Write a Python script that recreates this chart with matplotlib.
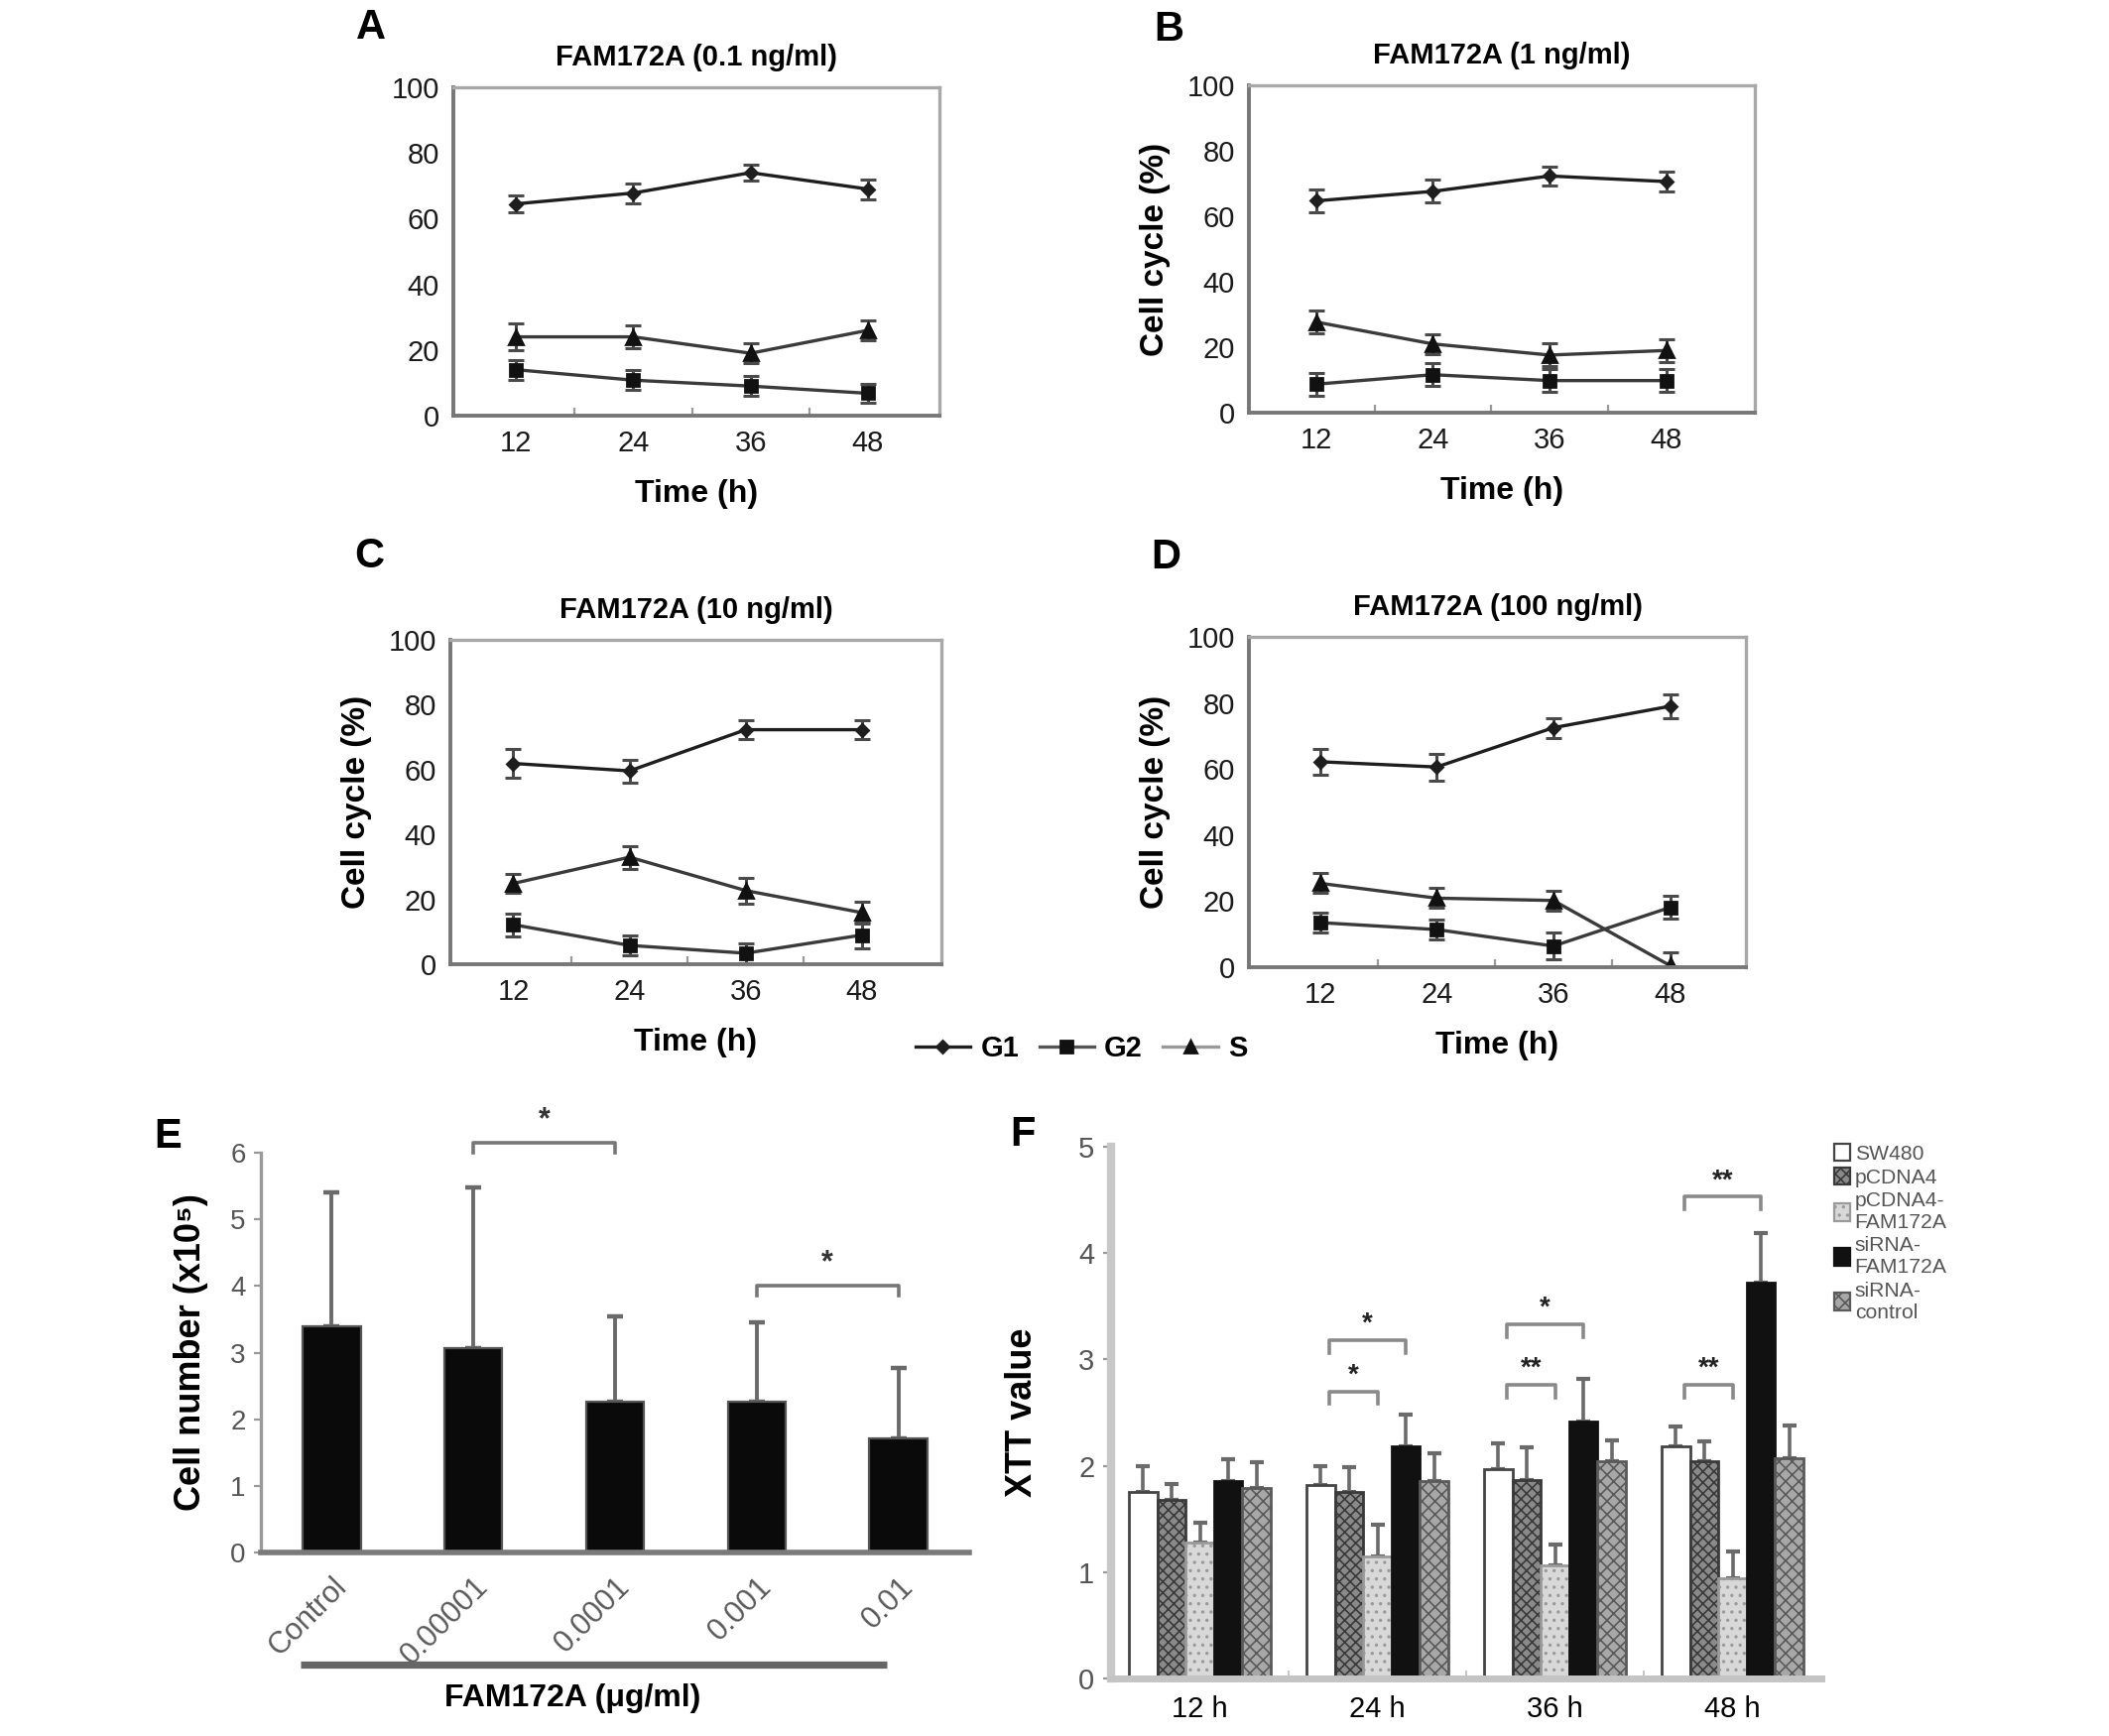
import matplotlib.pyplot as plt
import matplotlib.transforms as mtransforms
from matplotlib.lines import Line2D
from matplotlib.patches import Patch
import numpy as np

plt.rcParams["font.family"] = ["Liberation Sans", "DejaVu Sans"]
plt.rcParams["hatch.linewidth"] = 0.6

# ── A–D: cell-cycle phase distribution over time ─────────────────────────────
TIME_H = [12, 24, 36, 48]
CC_TITLES = ["FAM172A (0.1 ng/ml)", "FAM172A (1 ng/ml)",
             "FAM172A (10 ng/ml)", "FAM172A (100 ng/ml)"]
G1_MEAN = [[64.5, 67.8, 74.0, 69.0], [64.7, 67.6, 72.3, 70.6],
           [61.9, 59.6, 72.3, 72.3], [62.2, 60.6, 72.5, 79.0]]
G1_ERR = [[2.7, 3.0, 2.5, 3.0], [3.5, 3.5, 3.0, 3.0],
          [4.5, 3.5, 3.0, 3.0], [4.0, 4.0, 3.0, 3.5]]
G2_MEAN = [[14.0, 10.8, 9.0, 6.8], [8.7, 11.6, 9.8, 9.8],
           [12.2, 5.8, 3.4, 9.0], [13.5, 11.4, 6.4, 18.1]]
G2_ERR = [[3.0, 3.0, 3.0, 3.0], [3.5, 3.5, 3.5, 3.5],
          [3.5, 3.0, 3.0, 4.0], [3.0, 3.0, 4.0, 3.5]]
S_MEAN = [[24.0, 24.0, 19.0, 26.0], [27.7, 21.0, 17.6, 19.0],
          [24.9, 33.0, 22.7, 15.9], [25.4, 20.9, 20.2, 0.5]]
S_ERR = [[4.0, 3.5, 3.0, 3.0], [3.5, 3.0, 3.5, 3.5],
         [3.0, 3.5, 4.0, 3.5], [3.0, 3.0, 3.0, 4.0]]

# ── E: cell number vs FAM172A dose ────────────────────────────────────────────
E_DOSES = ["Control", "0.00001", "0.0001", "0.001", "0.01"]
E_MEAN = [3.40, 3.07, 2.27, 2.26, 1.71]
E_ERR = [2.01, 2.41, 1.28, 1.19, 1.06]
E_SIG = [(1, 2, 6.15, "*"), (3, 4, 4.00, "*")]

# ── F: XTT value per group and time ──────────────────────────────────────────
F_TIMES = ["12 h", "24 h", "36 h", "48 h"]
F_SERIES = ["SW480", "pCDNA4", "pCDNA4-\nFAM172A", "siRNA-\nFAM172A", "siRNA-\ncontrol"]
F_MEAN = [
    [1.75, 1.82, 1.97, 2.18],
    [1.68, 1.75, 1.87, 2.04],
    [1.28, 1.15, 1.06, 0.94],
    [1.86, 2.18, 2.42, 3.72],
    [1.79, 1.86, 2.04, 2.07],
]
F_ERR = [
    [0.25, 0.18, 0.24, 0.19],
    [0.15, 0.24, 0.30, 0.19],
    [0.18, 0.30, 0.20, 0.25],
    [0.20, 0.30, 0.40, 0.47],
    [0.24, 0.26, 0.20, 0.31],
]
F_SIG = [(1, 0, 2, 2.70, "*"), (1, 0, 3, 3.18, "*"),
         (2, 0, 2, 2.76, "**"), (2, 0, 3, 3.33, "*"),
         (3, 0, 2, 2.76, "**"), (3, 0, 3, 4.53, "**")]

# styles
F_FACE = ["white", "#8a8a8a", "#d8d8d8", "#111111", "#a8a8a8"]
F_HATCH = [None, "xxxxxx", "....", None, "xxxxx"]
F_EDGE = ["#444444", "#3a3a3a", "#9a9a9a", "#111111", "#5a5a5a"]

W, H = 2126, 1750


def box(l, t, r, b):
    return [l / W, 1 - b / H, (r - l) / W, (b - t) / H]


fig = plt.figure(figsize=(W / 200, H / 200), dpi=200)

cc_boxes = [box(457, 88, 947, 419), box(1259, 86, 1769, 416),
            box(454, 645, 949, 972), box(1259, 642, 1760, 975)]
cc_xlims = [(5.6, 55.3), (5.1, 57.1), (5.5, 56.2), (4.7, 55.8)]

for k in range(4):
    ax = fig.add_axes(cc_boxes[k])
    common = dict(capsize=3, elinewidth=1.1, capthick=1.1, lw=1.2)
    ax.errorbar(TIME_H, G1_MEAN[k], yerr=G1_ERR[k], color="#1e1e1e",
                ecolor="#4a4a4a", marker="D", ms=3.0, **common)
    ax.errorbar(TIME_H, G2_MEAN[k], yerr=G2_ERR[k], color="#3a3a3a",
                ecolor="#4a4a4a", marker="s", ms=4.5, mfc="#111", mec="#111", **common)
    ax.errorbar(TIME_H, S_MEAN[k], yerr=S_ERR[k], color="#3a3a3a",
                ecolor="#4a4a4a", marker="^", ms=5, mfc="#111", mec="#111", **common)
    ax.set_xlim(*cc_xlims[k])
    ax.set_ylim(0, 100)
    ax.set_xticks(TIME_H)
    ax.set_yticks(range(0, 101, 20))
    ax.set_xticks([18, 30, 42], minor=True)
    ax.tick_params(axis="both", which="major", length=0, labelsize=10.5,
                   labelcolor="#1a1a1a", pad=5)
    ax.tick_params(axis="x", which="minor", direction="in", length=3,
                   color="#999999", width=0.8)
    for side in ["top", "right"]:
        ax.spines[side].set_color("#a8a8a8")
        ax.spines[side].set_linewidth(1.2)
    for side in ["left", "bottom"]:
        ax.spines[side].set_color("#777777")
        ax.spines[side].set_linewidth(1.4)
    ax.set_title(CC_TITLES[k], fontsize=10.5, fontweight="bold", pad=8)
    ax.set_xlabel("Time (h)", fontsize=11.5, fontweight="bold", labelpad=8)
    if k > 0:
        ax.set_ylabel("Cell cycle (%)", fontsize=12, fontweight="bold", labelpad=6)

# shared phase legend
handles = [
    Line2D([], [], color="#1e1e1e", lw=1.2, marker="D", ms=3.0),
    Line2D([], [], color="#555555", lw=1.2, marker="s", ms=4.2, mfc="#111", mec="#111"),
    Line2D([], [], color="#999999", lw=1.2, marker="^", ms=4.5, mfc="#111", mec="#111"),
]
fig.legend(handles, ["G1", "G2", "S"], loc="center", ncol=3,
           bbox_to_anchor=(1090 / W, 1 - 1057 / H), frameon=False,
           handlelength=1.9, handletextpad=0.35, columnspacing=0.7,
           prop=dict(size=10.5, weight="bold"))

# ── Panel E ──────────────────────────────────────────────────────────────────
axE = fig.add_axes(box(263, 1162, 977, 1565))
xe = np.arange(len(E_DOSES))
axE.bar(xe, E_MEAN, width=0.41, color="#0a0a0a", edgecolor="#555555",
        linewidth=0.8, zorder=2)
axE.errorbar(xe, E_MEAN, yerr=[np.zeros(len(E_ERR)), E_ERR], fmt="none",
             ecolor="#6a6a6a", elinewidth=1.4, capsize=3, capthick=1.6, zorder=1)
axE.set_xlim(-0.5, 4.5)
axE.set_ylim(0, 6)
axE.set_yticks(range(0, 7))
axE.set_xticks(xe)
axE.set_xticklabels(E_DOSES, rotation=45, ha="right", rotation_mode="anchor",
                    fontsize=11, color="#5a5a5a")
axE.tick_params(axis="x", length=0, pad=7)
axE.tick_params(axis="y", length=2.5, color="#999999", labelsize=10,
                labelcolor="#555555", pad=3)
axE.spines[["top", "right"]].set_visible(False)
axE.spines["left"].set_color("#9a9a9a")
axE.spines["left"].set_linewidth(1.2)
axE.spines["bottom"].set_color("#7a7a7a")
axE.spines["bottom"].set_linewidth(2)
axE.set_ylabel("Cell number (x10\u2075)", fontsize=13, fontweight="bold", labelpad=8)
for a, b, y, lab in E_SIG:
    axE.plot([a, a, b, b], [y - 0.15, y, y, y - 0.15], color="#777777", lw=1.3,
             clip_on=False)
    axE.text((a + b) / 2, y + 0.12, lab, ha="center", va="bottom", fontsize=11,
             fontweight="bold", color="#333333", clip_on=False)
# underline for the FAM172A dose range
trE = mtransforms.blended_transform_factory(axE.transData, axE.transAxes)
axE.plot([-0.22, 3.92], [-0.28, -0.28], transform=trE, color="#666666", lw=2.6,
         clip_on=False, solid_capstyle="butt")
fig.text(577 / W, 1 - 1712 / H, "FAM172A (\u03bcg/ml)", ha="center", va="center",
         fontsize=11.5, fontweight="bold")

# ── Panel F ──────────────────────────────────────────────────────────────────
axF = fig.add_axes(box(1120, 1156, 1836, 1692))
xf = np.arange(len(F_TIMES))
bw = 0.16
for j in range(len(F_SERIES)):
    pos = xf + (j - 2) * bw
    axF.bar(pos, F_MEAN[j], width=bw, color=F_FACE[j], edgecolor=F_EDGE[j],
            hatch=F_HATCH[j], linewidth=1.0, zorder=2)
    axF.errorbar(pos, F_MEAN[j], yerr=[np.zeros(len(F_ERR[j])), F_ERR[j]],
                 fmt="none", ecolor="#6a6a6a", elinewidth=1.3, capsize=2.5,
                 capthick=1.5, zorder=1)
axF.set_xlim(-0.5, 3.5)
axF.set_ylim(0, 5)
axF.set_yticks(range(0, 6))
axF.set_xticks(xf)
axF.set_xticklabels(F_TIMES, fontsize=10.5)
axF.set_xticks([0.5, 1.5, 2.5], minor=True)
axF.tick_params(axis="x", which="major", length=0, pad=6)
axF.tick_params(axis="x", which="minor", length=3, color="#bbbbbb", direction="in")
axF.tick_params(axis="y", length=3, color="#999999", labelsize=10.5,
                labelcolor="#555555", pad=3)
axF.spines[["top", "right"]].set_visible(False)
axF.spines["left"].set_color("#c8c8c8")
axF.spines["left"].set_linewidth(3)
axF.spines["bottom"].set_color("#c4c4c4")
axF.spines["bottom"].set_linewidth(2.5)
axF.set_ylabel("XTT value", fontsize=13, fontweight="bold", labelpad=14)
for g, a, b, y, lab in F_SIG:
    xa = g + (a - 2) * bw + 0.05
    xb = g + (b - 2) * bw
    axF.plot([xa, xa, xb, xb], [y - 0.12, y, y, y - 0.12], color="#8a8a8a",
             lw=1.3, clip_on=False)
    axF.text((xa + xb) / 2, y + 0.03, lab, ha="center", va="bottom", fontsize=10,
             fontweight="bold", color="#222222")
f_handles = [Patch(facecolor=F_FACE[j], edgecolor=F_EDGE[j], hatch=F_HATCH[j],
                   linewidth=0.8) for j in range(len(F_SERIES))]
fig.legend(f_handles, F_SERIES, loc="upper left",
           bbox_to_anchor=(1838 / W, 1 - 1142 / H), frameon=False,
           fontsize=7.6, handlelength=0.8, handleheight=0.9, handletextpad=0.2,
           labelspacing=0.2, labelcolor="#555555", borderpad=0)

# ── panel letters ────────────────────────────────────────────────────────────
for lab, (px, py) in zip("ABCDEF", [(374, 28), (1178, 30), (372, 561),
                                     (1175, 562), (169, 1146), (1031, 1144)]):
    fig.text(px / W, 1 - py / H, lab, ha="center", va="center",
             fontsize=15, fontweight="bold")

fig.savefig("out.png", dpi=200, facecolor="white")
